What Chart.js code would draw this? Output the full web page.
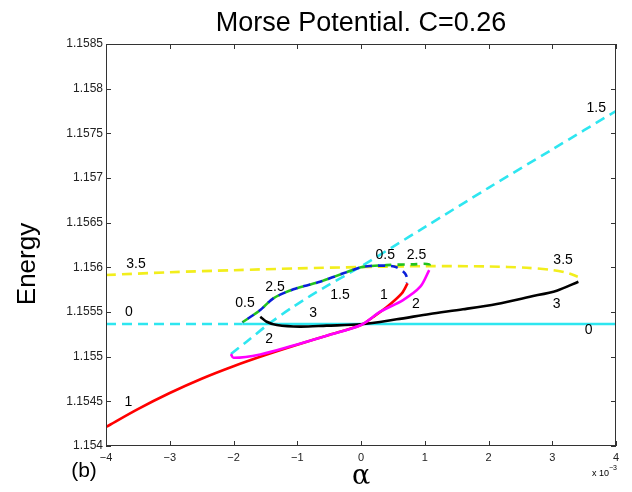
<!DOCTYPE html>
<html>
<head>
<meta charset="utf-8">
<script src="https://cdn.jsdelivr.net/npm/chart.js@4.4.0/dist/chart.umd.min.js"></script>
<style>
  html, body { margin: 0; padding: 0; background: #fff; }
  #wrap { width: 632px; height: 492px; }
</style>
</head>
<body>
<div id="wrap"><canvas id="morse" width="632" height="492"></canvas></div>
<script>
// axis ticks
var xTicks = [-4, -3, -2, -1, 0, 1, 2, 3, 4];
var xTickLabels = ['\u22124', '\u22123', '\u22122', '\u22121', '0', '1', '2', '3', '4'];
var yTicks = [1.154, 1.1545, 1.155, 1.1555, 1.156, 1.1565, 1.157, 1.1575, 1.158, 1.1585];
var yTickLabels = ['1.154', '1.1545', '1.155', '1.1555', '1.156', '1.1565', '1.157', '1.1575', '1.158', '1.1585'];

// branches (alpha in units of 1e-3, energy)
var b0DashX = [-4, -1.86];
var b0DashY = [1.155366, 1.155366];
var b0SolidX = [-1.86, 4];
var b0SolidY = [1.155366, 1.155366];

var b35X = [-4, -3, -2, -1, 0, 1, 2, 2.6, 3.0, 3.25, 3.4];
var b35Y = [1.155914, 1.155945, 1.155968, 1.155988, 1.156003, 1.156013, 1.156010, 1.155995, 1.155970, 1.155935, 1.155895];

var b15X = [-2.04, -1.79, -1.44, -1.06, -0.54, 0, 0.5, 1, 2, 3, 4];
var b15Y = [1.15503, 1.15517, 1.15537, 1.15556, 1.15579, 1.15601, 1.15623, 1.15645, 1.15689, 1.15732, 1.15775];

var b1X = [-4, -3.5, -3, -2.5, -2, -1.5, -1, -0.5, 0, 0.19, 0.4, 0.64, 0.73];
var b1Y = [1.154213, 1.154413, 1.154593, 1.154753, 1.154893, 1.155018, 1.155133, 1.155243, 1.155354, 1.155444, 1.155553, 1.155709, 1.155821];

var b2X = [-2.04, -2.0, -1.58, -1.06, -0.54, 0, 0.3, 0.66, 0.93, 1.07];
var b2Y = [1.15503, 1.154988, 1.155025, 1.155125, 1.155235, 1.155354, 1.155503, 1.155634, 1.155783, 1.15597];

var b3X = [-1.58, -1.48, -1.32, -0.96, -0.54, 0, 0.56, 1.08, 1.6, 2.13, 2.65, 3.07, 3.41];
var b3Y = [1.155447, 1.155391, 1.155354, 1.155336, 1.155347, 1.155362, 1.155418, 1.155478, 1.15553, 1.15559, 1.155671, 1.155739, 1.155839];

var b05X = [-1.86, -1.58, -1.375, -1.06, -0.643, -0.277, 0, 0.14, 0.4, 0.56, 0.69, 0.73, 0.72];
var b05Y = [1.155385, 1.155522, 1.155653, 1.155754, 1.155839, 1.155933, 1.156, 1.156015, 1.156018, 1.156, 1.155933, 1.155858, 1.155821];

var b25X = [-1.86, -1.58, -1.375, -1.06, -0.643, -0.277, 0, 0.4, 0.8, 1.07, 1.07];
var b25Y = [1.155385, 1.155522, 1.155653, 1.155754, 1.155839, 1.155933, 1.156, 1.156025, 1.156033, 1.156033, 1.15597];

// curve labels
var labelText = ['1.5', '3.5', '0', '1', '0.5', '2.5', '1.5', '3', '2', '1', '0.5', '2.5', '2', '3.5', '3', '0'];
var labelX = [3.69, -3.53, -3.64, -3.65, -1.82, -1.35, -0.33, -0.75, -1.44, 0.36, 0.38, 0.87, 0.86, 3.17, 3.07, 3.57];
var labelY = [1.157784, 1.156037, 1.155494, 1.154493, 1.155597, 1.155783, 1.15569, 1.155492, 1.155194, 1.15569, 1.156138, 1.156138, 1.15559, 1.156082, 1.15559, 1.155299];

function pts(xs, ys) {
  var out = [];
  for (var k = 0; k < xs.length; k++) {
    out.push({x: xs[k], y: ys[k]});
  }
  return out;
}

function line(xs, ys, color, dash, tension, offset) {
  return {
    data: pts(xs, ys),
    showLine: true,
    borderColor: color,
    borderWidth: 2.6,
    borderDash: dash,
    borderDashOffset: offset || 0,
    pointRadius: 0,
    tension: tension,
    fill: false
  };
}

var FONT = '"Liberation Sans", Arial, Helvetica, sans-serif';

var boxPlugin = {
  id: 'matlabBox',
  afterDraw: function(chart) {
    var c = chart.ctx;
    var a = chart.chartArea;
    var sx = chart.scales.x;
    var sy = chart.scales.y;
    c.save();
    c.strokeStyle = '#333';
    c.lineWidth = 1;
    c.strokeRect(a.left + 0.5, a.top + 0.5, a.right - a.left - 1, a.bottom - a.top - 1);
    c.beginPath();
    for (var i = 0; i < xTicks.length; i++) {
      var px = Math.round(sx.getPixelForValue(xTicks[i])) + 0.5;
      c.moveTo(px, a.bottom); c.lineTo(px, a.bottom - 5);
      c.moveTo(px, a.top); c.lineTo(px, a.top + 5);
    }
    for (var j = 0; j < yTicks.length; j++) {
      var py = Math.round(sy.getPixelForValue(yTicks[j])) + 0.5;
      c.moveTo(a.left, py); c.lineTo(a.left + 5, py);
      c.moveTo(a.right, py); c.lineTo(a.right - 5, py);
    }
    c.stroke();

    // curve labels
    c.fillStyle = '#000';
    c.font = '14px ' + FONT;
    c.textAlign = 'center';
    c.textBaseline = 'middle';
    for (var m = 0; m < labelText.length; m++) {
      c.fillText(labelText[m], sx.getPixelForValue(labelX[m]), sy.getPixelForValue(labelY[m]));
    }

    // title
    c.font = '27px ' + FONT;
    c.textBaseline = 'alphabetic';
    c.fillText('Morse Potential. C=0.26', (a.left + a.right) / 2, 31);

    // x label
    c.font = '27px "DejaVu Serif", serif';
    c.fillText('\u03b1', (a.left + a.right) / 2, 484);

    // (b)
    c.font = '21px ' + FONT;
    c.fillText('(b)', 84, 477);

    // exponent
    c.font = '9px ' + FONT;
    c.textAlign = 'left';
    c.fillText('x 10', 592, 476);
    c.font = '7px ' + FONT;
    c.fillText('\u22123', 609, 470);

    // y label
    c.save();
    c.translate(35, 264);
    c.rotate(-Math.PI / 2);
    c.font = '26px ' + FONT;
    c.textAlign = 'center';
    c.fillText('Energy', 0, 0);
    c.restore();
    c.restore();
  }
};

var ctx = document.getElementById('morse').getContext('2d');
var chartMorse = new Chart(ctx, {
  type: 'scatter',
  data: {
    datasets: [
      line(b2X, b2Y, '#ff00ff', [], 0.3),
      line(b1X, b1Y, '#ff0000', [], 0.3),
      line(b3X, b3Y, '#000000', [], 0.3),
      line(b05X, b05Y, '#0a1fd8', [7, 6], 0.3, 6.5),
      line(b25X, b25Y, '#22c21f', [7, 6], 0.3),
      line(b15X, b15Y, '#2ee6f0', [10, 6], 0.3),
      line(b35X, b35Y, '#f2ee1c', [10, 6], 0.3),
      line(b0SolidX, b0SolidY, '#2ee6f0', [], 0),
      line(b0DashX, b0DashY, '#2ee6f0', [10, 6], 0)
    ]
  },
  options: {
    responsive: false,
    animation: false,
    layout: { padding: { top: 44, right: 16, bottom: 0, left: 0 } },
    plugins: { legend: { display: false }, tooltip: { enabled: false }, title: { display: false } },
    scales: {
      x: {
        type: 'linear',
        min: -4,
        max: 4,
        grid: { display: false, drawTicks: false },
        border: { display: false },
        afterBuildTicks: function(scale) {
          scale.ticks = xTicks.map(function(v) { return {value: v}; });
        },
        afterFit: function(scale) { scale.height = 46; },
        ticks: {
          padding: 5,
          color: '#222',
          font: { size: 11, family: FONT },
          maxRotation: 0,
          callback: function(value, index) { return xTickLabels[index]; }
        }
      },
      y: {
        type: 'linear',
        min: 1.154,
        max: 1.1585,
        grid: { display: false, drawTicks: false },
        border: { display: false },
        afterBuildTicks: function(scale) {
          scale.ticks = yTicks.map(function(v) { return {value: v}; });
        },
        afterFit: function(scale) { scale.width = 106; },
        ticks: {
          padding: 3,
          color: '#222',
          font: { size: 12, family: FONT },
          callback: function(value, index) { return yTickLabels[index]; }
        }
      }
    }
  },
  plugins: [boxPlugin]
});
</script>
</body>
</html>
